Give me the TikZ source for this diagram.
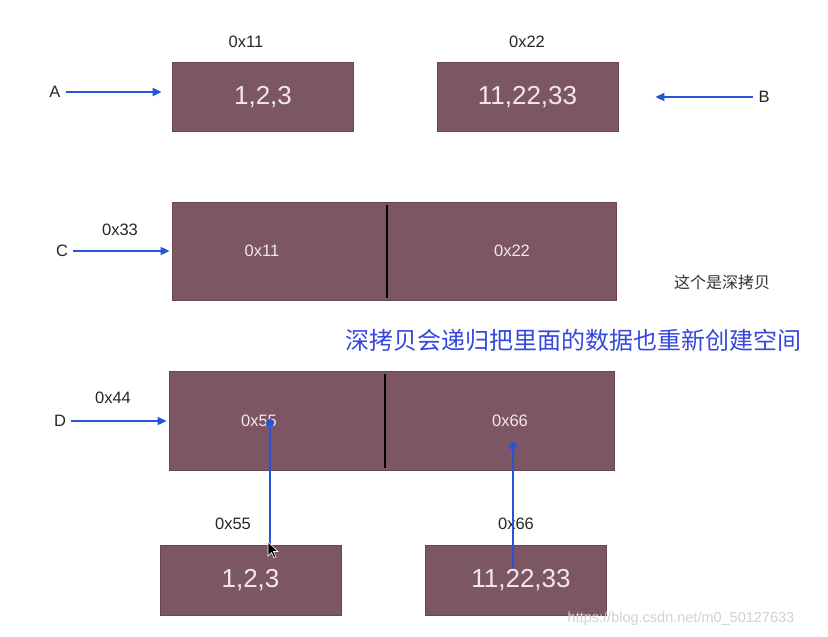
\documentclass[tikz,border=0pt]{standalone}
\usepackage{fontspec}
\setmainfont{Liberation Sans}
\newfontfamily\cjk{Noto Sans CJK SC}
\usetikzlibrary{arrows.meta,calc}
\definecolor{boxfill}{RGB}{124,86,100}
\definecolor{boxedge}{RGB}{104,70,84}
\definecolor{boxtext}{RGB}{242,232,236}
\definecolor{arrblue}{RGB}{40,85,215}
\definecolor{titleblue}{RGB}{52,72,222}
\tikzset{
  membox/.style={fill=boxfill, draw=boxedge, line width=0.8pt, inner sep=0pt},
  bigtxt/.style={text=boxtext, font=\fontsize{26}{30}\selectfont},
  smalltxt/.style={text=boxtext, font=\fontsize{16.5}{19}\selectfont},
  lbl/.style={text=black!85, font=\fontsize{16.5}{19}\selectfont, inner sep=1pt},
  arr/.style={draw=arrblue, line width=1.8pt, -{Triangle[length=9pt,width=8pt]}},
  ptr/.style={draw=arrblue, line width=2.2pt, {Circle[length=8pt]}-},
  divider/.style={draw=black, line width=2pt}
}
\begin{document}
\begin{tikzpicture}[x=1pt,y=-1pt]
\useasboundingbox (0,0) rectangle (828,637);
\fill[white] (0,0) rectangle (828,637);

% top row
\node[membox, minimum width=181pt, minimum height=69pt] (b1) at (262.5,96.5) {};
\node[bigtxt] (b1t) at (263,97) {1,2,3};
\node[membox, minimum width=181pt, minimum height=69pt] (b2) at (527.5,96.5) {};
\node[bigtxt] (b2t) at (527.5,97) {11,22,33};
\node[lbl] (l11) at (246,42) {0x11};
\node[lbl] (l22) at (527,42) {0x22};
\node[lbl] (A) at (55,92) {A};
\node[lbl] (B) at (764,97) {B};
\draw[arr, shorten <=4pt, shorten >=10pt] (A.east) -- (A.east -| b1.west);
\draw[arr, shorten <=4pt, shorten >=37pt] (B.west) -- (B.west -| b2.east);

% C row
\node[membox, minimum width=444pt, minimum height=98pt] (bc) at (394,251) {};
\draw[divider] ($(bc.north west)+(215,3)$) -- ($(bc.south west)+(215,-2)$);
\node[smalltxt] (c11) at (262,251) {0x11};
\node[smalltxt] (c22) at (512,251) {0x22};
\node[lbl] (C) at (62,251) {C};
\node[lbl] (l33) at (120,230) {0x33};
\draw[arr, shorten <=4pt, shorten >=2pt] (C.east) -- (C.east -| bc.west);
\node[text=black!80, font=\cjk\fontsize{16}{18}\selectfont] (note) at (722,282) {这个是深拷贝};

\node[text=titleblue, font=\cjk\fontsize{24}{28}\selectfont] (title) at (573,340) {深拷贝会递归把里面的数据也重新创建空间};

% D row
\node[membox, minimum width=445pt, minimum height=99pt] (bd) at (391.5,420.5) {};
\draw[divider] ($(bd.north west)+(216,3)$) -- ($(bd.south west)+(216,-2)$);
\node[smalltxt] (d55) at (259,421) {0x55};
\node[smalltxt] (d66) at (510,421) {0x66};
\node[lbl] (D) at (60,421) {D};
\node[lbl] (l44) at (113,398) {0x44};
\draw[arr, shorten <=4pt, shorten >=2pt] (D.east) -- (D.east -| bd.west);

% bottom row
\node[membox, minimum width=181pt, minimum height=70pt] (e1) at (250.5,580) {};
\node[bigtxt] (e1t) at (250.5,580) {1,2,3};
\node[membox, minimum width=181pt, minimum height=70pt] (e2) at (515.5,580) {};
\node[lbl] (l55) at (233,524) {0x55};
\node[lbl] (l66) at (516,524) {0x66};

\coordinate (p55) at (270,419);
\coordinate (p66) at (513,442);
\coordinate (q66) at (513,569);
\draw[ptr] (p55) -- (p55 |- e1.north);
\draw[ptr] (p66) -- (q66);
\node[bigtxt] (e2t) at (521,580) {11,22,33};

% mouse cursor
\draw[fill=black, draw=white, line width=0.6pt] (268,542) -- (268,556) -- (271.5,552.5) -- (274,558) -- (276,557) -- (273.5,551.5) -- (278,551.5) -- cycle;

% watermark
\node[text=black!18, font=\fontsize{14.5}{16}\selectfont] (wm) at (681,619) {https://blog.csdn.net/m0\_50127633};
\end{tikzpicture}
\end{document}
